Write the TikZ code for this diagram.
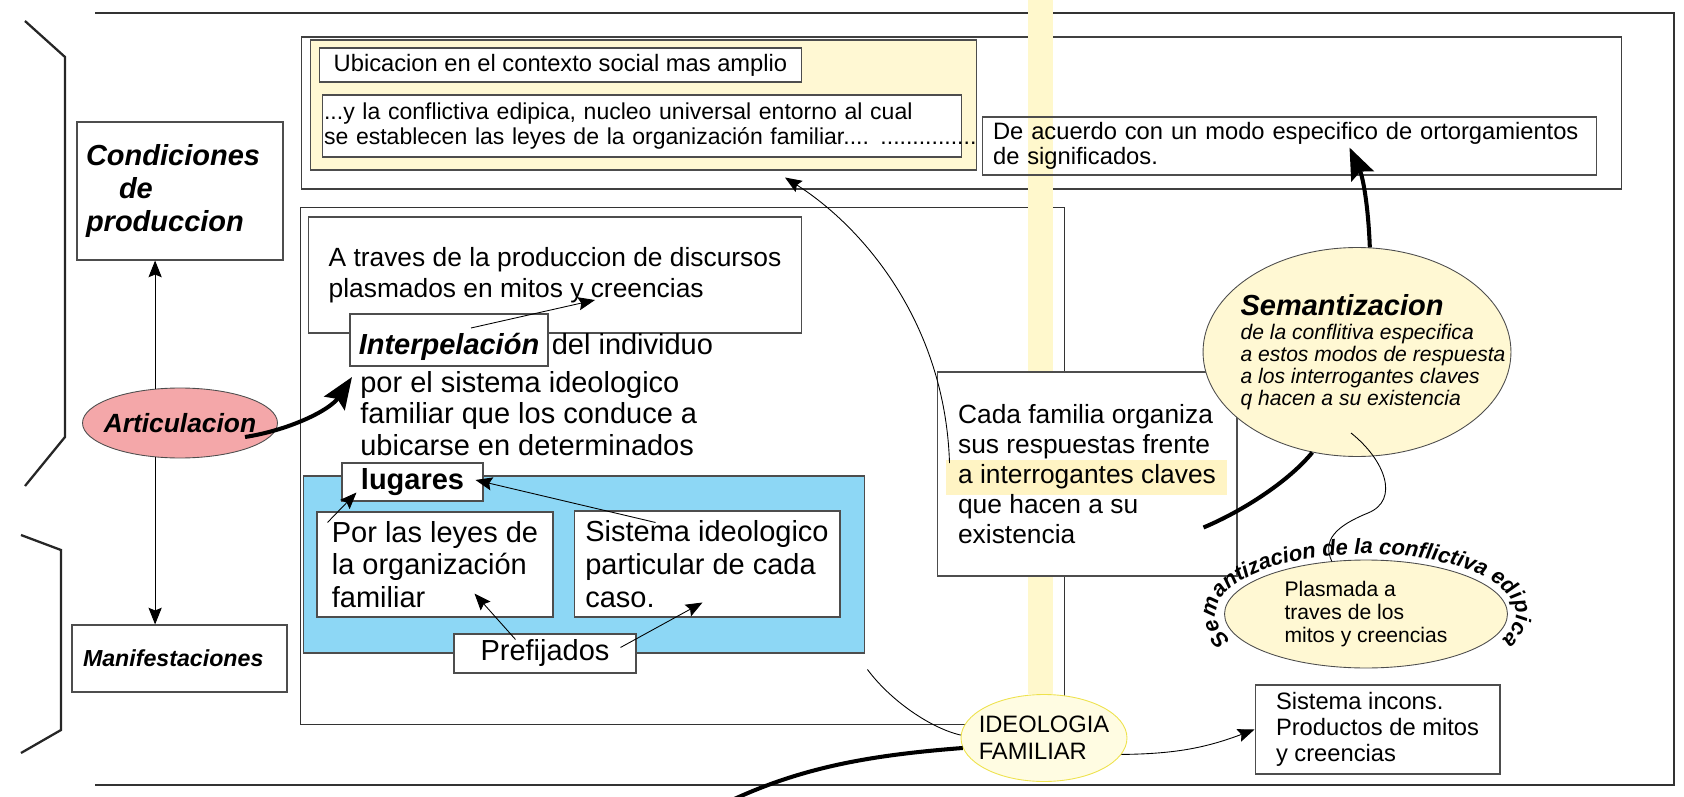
\documentclass[tikz,border=0pt]{standalone}
\usepackage{fontspec}
\setmainfont{Liberation Sans}
\usetikzlibrary{shapes.geometric,arrows.meta,decorations.text}

\definecolor{artpink}{HTML}{F4A7A9}
\definecolor{lugblue}{HTML}{8DD7F5}
\definecolor{cream}{HTML}{FFF8D3}
\definecolor{stripeyel}{HTML}{FFF8CC}
\definecolor{ideoedge}{HTML}{EEE24C}
\definecolor{ideofill}{HTML}{FFFCE2}
\definecolor{hlyel}{HTML}{FFF4C4}
\definecolor{linegray}{HTML}{4D4D4D}

\begin{document}
\begin{tikzpicture}[
        x=0.02cm, y=-0.02cm,
        box/.style={draw=linegray, fill=white, line width=0.6pt, inner sep=0pt, align=left},
        ell/.style={ellipse, draw=linegray, line width=0.5pt, inner sep=0pt},
        thinline/.style={line width=0.5pt},
        thinarr/.style={-{Stealth[length=9.5pt, width=7.5pt, inset=1.5pt]}, line width=0.5pt},
        fatline/.style={line width=2.3pt},
        fatarr/.style={-{Stealth[length=18pt, width=14pt, inset=3pt]}, line width=2.3pt},
        bracket/.style={line width=1.3pt, black!85},
        frameline/.style={line width=0.7pt, black!80}
    ]
    \useasboundingbox (0,0) rectangle (1684,797);

    % --- Frame and brackets ---
    \draw[frameline] (95,13) -- (1674,13) -- (1674,785) -- (95,785);
    \draw[bracket] (25,21) -- (65,57) -- (65,437) -- (25,486);
    \draw[bracket] (21,535) -- (61,550) -- (61,730) -- (21,753);

    % --- Outer boxes ---
    \node[box, fill=none, draw=black!75, minimum width=26.42cm, minimum height=3.04cm] (ctx) at (961.5,113) {};
    \node[box, fill=none, draw=black!80, minimum width=15.3cm, minimum height=10.36cm] (idbox) at (682.5,466) {};

    % --- Yellow stripe ---
    \fill[stripeyel] (1028,0) rectangle (1053,694);

    % --- Left column ---
    \node[box, minimum width=4.12cm, minimum height=2.76cm, text width=3.76cm, inner xsep=0.18cm,
          font=\bfseries\itshape\fontsize{16.5}{18.7}\selectfont] (cond) at (180,191)
          {Condiciones\\\hspace*{0.66cm}de\\produccion};
    \node[box, minimum width=4.3cm, minimum height=1.34cm, text width=3.86cm, inner xsep=0.22cm,
          font=\bfseries\itshape\fontsize{13.2}{15}\selectfont] (manif) at (179.5,658.5) {Manifestaciones};
    \node[ell, fill=artpink, minimum width=3.9cm, minimum height=1.4cm,
          label={[font=\bfseries\itshape\fontsize{15}{17}\selectfont]center:Articulacion}] (art) at (180,423) {};

    % --- Context box ---
    \node[box, fill=cream, minimum width=13.34cm, minimum height=2.6cm] (ybox) at (643.5,105) {};
    \node[box, minimum width=9.66cm, minimum height=0.68cm, font=\fontsize{13.5}{15}\selectfont] (ubic) at (560.5,65)
          {Ubicacion en el contexto social mas amplio};
    \node[box, minimum width=12.8cm, minimum height=1.24cm, text width=12.72cm, inner xsep=0.04cm,
          font=\fontsize{13.1}{14.4}\selectfont] (confl) at (642,126)
          {...y la conflictiva edipica, nucleo universal entorno al cual\\\mbox{se establecen las leyes de la organización familiar.... ...............}};
    \node[box, fill=none, minimum width=12.3cm, minimum height=1.16cm, text width=11.86cm, inner xsep=0.22cm,
          font=\fontsize{13.5}{14.2}\selectfont] (deac) at (1289.5,146)
          {De acuerdo con un modo especifico de ortorgamientos\\de significados.};

    % --- Ideology box ---
    \node[box, minimum width=9.88cm, minimum height=2.32cm, font=\fontsize{15}{18}\selectfont] (traves) at (555,275)
          {A traves de la produccion de discursos\\plasmados en mitos y creencias};
    \node[box, minimum width=3.96cm, minimum height=1.04cm, text height=20pt, text depth=3.5pt,
          font=\bfseries\itshape\fontsize{16.5}{18.7}\selectfont] (interp) at (449,340) {Interpelación};
    \node[anchor=base west, inner sep=0pt, font=\fontsize{16.5}{18}\selectfont] (indiv)
          at ([xshift=0.06cm]interp.base east) {del individuo};
    \node[anchor=north west, inner sep=0pt, align=left, font=\fontsize{16.5}{18}\selectfont] (ppar) at (360,371)
          {por el sistema ideologico\\familiar que los conduce a\\ubicarse en determinados};

    \node[box, fill=lugblue, minimum width=11.24cm, minimum height=3.54cm] (lugbg) at (584,564.5) {};
    \node[box, minimum width=2.82cm, minimum height=0.76cm, font=\bfseries\fontsize{16.5}{18.7}\selectfont] (lugares) at (412.5,482) {lugares};
    \node[box, minimum width=4.72cm, minimum height=2.1cm, font=\fontsize{16.5}{18.7}\selectfont] (leyes) at (435,564.5)
          {Por las leyes de\\la organización\\familiar};
    \node[box, minimum width=5.32cm, minimum height=2.12cm, font=\fontsize{16.5}{18.7}\selectfont] (sisid) at (707,564)
          {Sistema ideologico\\particular de cada\\caso.};
    \node[box, minimum width=3.64cm, minimum height=0.78cm, font=\fontsize{16.5}{18.7}\selectfont] (pref) at (545,653.5) {Prefijados};

    % --- Right side ---
    \node[box, minimum width=6cm, minimum height=4.08cm, font=\fontsize{15}{17}\selectfont] (cada) at (1087,474)
          {Cada familia organiza\\sus respuestas frente\\\rlap{\hspace*{-7pt}\smash{\textcolor{hlyel}{\rule[-6.8pt]{160pt}{20.4pt}}}}a interrogantes claves\\que hacen a su\\existencia};
    \node[ell, fill=cream, minimum width=6.16cm, minimum height=4.18cm,
          label={[align=left, xshift=0.32cm, font=\itshape\fontsize{12}{12.5}\selectfont]center:{{\bfseries\fontsize{16.5}{18}\selectfont Semantizacion}\\[1pt]de la conflitiva especifica\\a estos modos de respuesta\\a los interrogantes claves\\q hacen a su existencia}}] (sem) at (1357,352) {};
    \node[ell, fill=cream, minimum width=5.66cm, minimum height=2.16cm, align=left,
          font=\fontsize{12}{13}\selectfont] (plas) at (1366,614) {Plasmada a\\traves de los\\mitos y creencias};
    \path[decorate, decoration={text along path, text align=center,
          text={|\bfseries\itshape\fontsize{12.5}{15}\selectfont|Semantizacion de la conflictiva edipica}}]
          ([shift={(214:3.0cm and 1.2cm)}]plas.center) arc[start angle=214, end angle=-34, x radius=3.0cm, y radius=1.2cm];
    \node[ell, draw=ideoedge, fill=ideofill, minimum width=3.32cm, minimum height=1.74cm,
          label={[align=left, font=\fontsize{13.5}{15.3}\selectfont]center:{IDEOLOGIA\\FAMILIAR}}] (ideo) at (1044,738) {};
    \node[box, minimum width=4.9cm, minimum height=1.78cm, font=\fontsize{13.5}{15}\selectfont] (sisinc) at (1377.5,729.5)
          {Sistema incons.\\Productos de mitos\\y creencias};
    \coordinate (offpage) at (690,822);

    % --- Connectors ---
    \draw[thinarr] (art.126) -- (art.126 |- cond.south);
    \draw[thinarr] (art.234) -- (art.234 |- manif.north);
    \draw[fatarr] ([shift={(65,14)}]art.center) .. controls (290,430) and (330,410) .. ([shift={(-8,6)}]ppar.north west);
    \draw[thinarr] ([shift={(22,-12)}]interp.center) -- ([shift={(40,25)}]traves.center);
    \draw[thinarr] ([shift={(11,11)}]leyes.north west) -- ([shift={(15,-9)}]lugares.south west);
    \draw[thinarr] ([shift={(82,12)}]sisid.north west) -- ([shift={(-8,-2)}]lugares.east);
    \draw[thinarr] ([shift={(62,6)}]pref.north west) -- ([shift={(158,-24)}]leyes.south west);
    \draw[thinarr] ([shift={(-16,14)}]pref.north east) -- ([shift={(129,-15)}]sisid.south west);
    \draw[thinarr] ([shift={(13,-11)}]cada.west) .. controls (945,320) and (860,225) .. ([shift={(141.5,7)}]ybox.south);
    \draw[fatarr] (sem.83) .. controls (1368,200) and (1362,175) .. ([shift={(60,-28)}]deac.south);
    \draw[fatline] ([shift={(-34,-49)}]cada.south east) .. controls (1245,510) and (1290,480) .. (sem.246);
    \draw[thinline] ([shift={(-6,81)}]sem.center) .. controls (1385,460) and (1400,500) .. (1368,513)
          .. controls (1336,526) and (1322,540) .. (plas.123);
    \draw[thinline] ([shift={(2,16)}]lugbg.south east) .. controls (890,700) and (930,728) .. (ideo.178);
    \draw[fatline] (ideo.187) .. controls (860,756) and (780,770) .. (offpage);
    \draw[thinarr] (ideo.-12) to[bend right=10] (sisinc.west);
\end{tikzpicture}
\end{document}
